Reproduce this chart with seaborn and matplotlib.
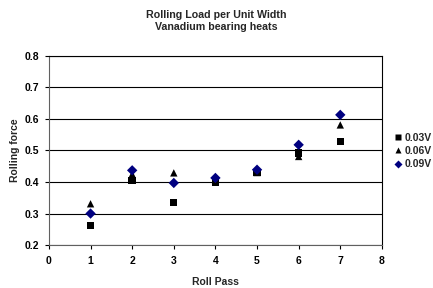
import matplotlib
matplotlib.use("Agg")
import matplotlib.pyplot as plt
import seaborn as sns
import pandas as pd

passes = [1, 2, 3, 4, 5, 6, 7]
v003 = [0.263, 0.405, 0.336, 0.400, 0.430, 0.492, 0.528]
v006 = [0.331, 0.425, 0.429, 0.405, 0.430, 0.481, 0.581]
v009 = [0.300, 0.437, 0.397, 0.413, 0.439, 0.518, 0.613]
series = ["0.03V", "0.06V", "0.09V"]

rows = []
for name, vals in zip(series, [v003, v006, v009]):
    for p, v in zip(passes, vals):
        rows.append({"Roll Pass": p, "Rolling force": v, "series": name})
df = pd.DataFrame(rows)

sns.set_style("white")
plt.rcParams['font.family'] = ['Liberation Sans', 'DejaVu Sans']

fig = plt.figure(figsize=(4.33, 2.88), dpi=100)
ax = fig.add_axes([0.113, 0.149, 0.769, 0.657])

palette = {"0.03V": "black", "0.06V": "black", "0.09V": "#000080"}
markers = {"0.03V": "s", "0.06V": "^", "0.09V": "D"}
sns.scatterplot(data=df, x="Roll Pass", y="Rolling force", hue="series", style="series",
                palette=palette, markers=markers, s=28, edgecolor="none", ax=ax, zorder=3)

ax.set_xlim(0, 8)
ax.set_ylim(0.2, 0.8)
ax.set_xticks(range(0, 9))
ax.set_yticks([0.2, 0.3, 0.4, 0.5, 0.6, 0.7, 0.8])
ax.set_yticklabels([f"{v:.1f}" for v in [0.2, 0.3, 0.4, 0.5, 0.6, 0.7, 0.8]])
ax.yaxis.grid(True, color="black", linewidth=0.8)
ax.xaxis.grid(False)
for s in ax.spines.values():
    s.set_color("black")
    s.set_linewidth(0.8)
ax.spines['left'].set_color("#606060")
ax.spines['bottom'].set_color("#606060")
ax.tick_params(axis='both', direction='out', length=3, width=0.8, colors='black',
               labelsize=7.5, left=True, bottom=True)
ax.tick_params(axis='x', pad=5)
ax.tick_params(axis='y', pad=4)
for lbl in ax.get_xticklabels() + ax.get_yticklabels():
    lbl.set_fontweight('bold')
ax.set_xlabel("Roll Pass", fontsize=7.5, fontweight='bold', labelpad=8)
ax.set_ylabel("Rolling force", fontsize=7.5, fontweight='bold', labelpad=3)

fig.text(0.5, 0.927, "Rolling Load per Unit Width\nVanadium bearing heats", fontsize=7.7,
         fontweight='bold', ha='center', va='center', linespacing=1.35)

h, l = ax.get_legend_handles_labels()
leg = ax.legend(h, l, loc='center left', bbox_to_anchor=(1.018, 0.497), frameon=False,
                handletextpad=0.0, borderaxespad=0, labelspacing=0.3,
                handlelength=1.2, prop={'weight': 'bold', 'size': 7.5})
for hh in leg.legend_handles:
    try:
        hh.set_markersize(4.5)
    except AttributeError:
        hh.set_sizes([20])

fig.savefig("out.png", dpi=100)
